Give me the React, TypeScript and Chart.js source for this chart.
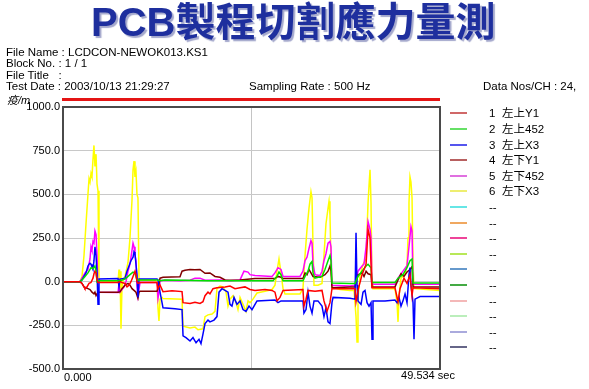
import React, { useEffect, useRef } from "react";
import { Chart, registerables } from "chart.js";

Chart.register(...registerables);

// ---------- DATA ----------
const TITLE = "PCB製程切割應力量測";
const HEADER_LINES = ["File Name : LCDCON-NEWOK013.KS1", "Block No. : 1 / 1", "File Title   :", "Test Date : 2003/10/13 21:29:27"];
const SAMPLING_TEXT = "Sampling Rate : 500 Hz";
const DATANOS_TEXT = "Data Nos/CH : 24,";
const Y_UNIT = "疫/m";

const X_MIN = 0;
const X_MAX = 49.534;
const X_GRID = [0, 24.767, 49.534];
const X_START_LABEL = "0.000";
const X_END_LABEL = "49.534 sec";
const Y_MIN = -500;
const Y_MAX = 1000;
const Y_STEP = 250;

const channelNumbers = ["1", "2", "3", "4", "5", "6", "", "", "", "", "", "", "", "", "", ""];
const channelNames = ["左上Y1", "左上452", "左上X3", "左下Y1", "左下452", "左下X3", "--", "--", "--", "--", "--", "--", "--", "--", "--", "--"];
const lineColors = ["#ff0000", "#00e000", "#0000ff", "#800000", "#ff00ff", "#ffff00"];
const legendColors = ["#d06868", "#66e066", "#5555ee", "#b86060", "#e070e0", "#eeee70", "#66e6e6", "#f0a860", "#ee4499", "#b8e858", "#6699cc", "#44aa44", "#f4b8b8", "#bbeebb", "#aaaadd", "#666688"];

// [time (sec), strain]
const ch1: number[][] = [
  [0, 0], [2.23, 0], [2.5, -10], [2.76, -30], [2.89, -40], [3.15, -30], [3.42, -10], [3.68, -5], [3.94, 20], [4.07, 45], [4.2, 60], [4.34, 50], [4.47, 10], [4.6, -5],
  [7.23, -5], [7.49, 0], [7.75, -5], [8.15, -10], [8.41, -30], [8.67, -20], [8.93, 0], [9.2, 30], [9.46, 60], [9.59, 40], [9.72, 0], [9.85, -10], [10.12, -5],
  [12.35, -5], [12.48, -40], [12.75, -20], [13.14, -57], [14.32, -52], [15.64, -57], [15.77, -120], [16.69, -125], [17.34, -118], [18.0, -125], [18.39, -115],
  [18.66, -80], [19.05, -60], [19.31, -70], [19.71, -40], [20.23, -35], [21.29, -30], [21.94, -25], [22.6, -40], [23.26, -35], [23.91, -30], [24.57, -45],
  [25.23, -50], [26.54, -45], [27.46, -50], [27.85, -60], [28.12, -110], [28.51, -90], [28.91, -50], [31.53, -45], [31.66, -140], [31.93, -100], [32.19, -50],
  [33.11, -55], [34.03, -50], [34.29, -110], [34.69, -170], [35.08, -120], [35.34, -40], [38.37, -40], [38.5, -115], [38.76, -50], [39.29, 40], [39.82, 100],
  [40.08, 300], [40.34, 250], [40.47, 100], [40.6, -35], [43.62, -35], [44.02, -115], [44.28, -40], [44.8, 20], [45.2, -10], [45.59, 40], [45.86, -80],
  [45.99, -35], [49.534, -40],
];
const ch2: number[][] = [
  [0, 0], [2.23, 0], [2.5, 10], [2.89, 30], [3.28, 50], [3.55, 70], [3.68, 80], [3.94, 75], [4.2, 90], [4.34, 60], [4.47, 0], [4.6, 5], [7.23, 5], [7.49, 5],
  [8.15, 15], [8.8, 40], [9.2, 55], [9.46, 50], [9.72, 10], [10.12, 10], [12.35, 10], [12.75, 5], [13.4, 10], [16.0, 8], [19.0, 5], [22.0, 5], [24.57, 5],
  [27.59, 5], [28.12, 30], [28.38, 55], [28.64, 40], [28.91, 5], [31.53, 5], [31.8, 30], [32.19, 60], [32.45, 100], [32.72, 115], [32.85, 50], [33.11, 20],
  [34.03, 30], [34.42, 70], [34.82, 120], [35.08, 150], [35.21, 120], [35.34, -8], [37.71, -10], [38.37, -10], [38.76, 30], [39.29, 60], [39.82, 90],
  [40.08, 100], [40.47, 80], [40.6, -5], [43.62, -5], [44.02, 20], [44.67, 40], [45.2, 80], [45.59, 120], [45.86, 130], [45.99, -8], [49.534, -8],
];
const ch3: number[][] = [
  [0, 0], [2.23, 0], [2.5, 10], [2.76, 30], [3.02, 50], [3.28, 90], [3.42, 100], [3.55, 105], [3.68, 100], [3.81, 85], [3.94, 70], [4.07, 120], [4.2, 200],
  [4.34, 150], [4.47, 50], [4.6, -130], [4.73, 15], [7.23, 18], [7.36, -30], [7.49, 15], [8.15, 20], [8.41, 60], [8.67, 90], [8.93, 120], [9.2, 140],
  [9.33, 170], [9.46, 160], [9.59, 100], [9.72, 40], [9.85, -90], [9.99, 15], [12.35, 15], [12.48, 10], [12.75, -60], [13.01, -120], [13.14, -150],
  [14.72, -155], [15.64, -160], [15.77, -310], [16.16, -320], [16.69, -340], [17.08, -320], [17.48, -350], [17.87, -330], [18.13, -355], [18.39, -300],
  [18.66, -240], [19.05, -220], [19.31, -230], [19.84, -220], [20.23, -200], [20.5, -60], [20.89, -40], [21.29, -50], [21.68, -60], [21.94, -130],
  [22.2, -140], [22.47, -90], [22.86, -130], [23.26, -110], [23.65, -160], [24.04, -170], [24.44, -140], [24.83, -160], [25.23, -130], [25.49, -110],
  [27.85, -105], [28.25, -120], [28.64, -110], [31.53, -110], [31.66, -180], [31.93, -160], [32.19, -60], [32.45, -140], [32.72, -180], [32.98, -110],
  [33.5, -110], [34.03, -140], [34.29, -200], [34.55, -150], [34.82, -230], [35.08, -240], [35.34, -120], [35.48, -90], [37.71, -95], [38.37, -100],
  [38.5, 280], [38.63, -20], [38.76, -110], [39.16, -130], [39.42, -60], [39.68, -50], [39.95, -120], [40.21, -140], [40.47, -120], [40.6, -330],
  [40.73, -110], [42.31, -110], [43.62, -105], [43.89, -120], [44.15, -90], [44.41, -140], [44.67, -110], [44.94, -70], [45.2, -120], [45.46, 40],
  [45.59, 80], [45.72, -20], [45.99, -120], [46.12, -330], [46.25, -100], [46.91, -85], [49.534, -85],
];
const ch4: number[][] = [
  [0, 0], [2.23, 0], [2.5, -10], [2.76, -30], [3.02, -35], [3.28, -40], [3.55, -45], [3.81, -60], [4.07, -70], [4.2, -60], [4.34, -80], [4.47, -70],
  [4.6, -60], [7.23, -60], [7.49, -58], [7.75, -40], [8.15, -20], [8.54, -10], [8.8, -20], [9.07, -40], [9.33, -50], [9.59, -60], [9.85, -95], [9.99, -60],
  [10.12, -55], [12.35, -55], [12.48, -40], [12.75, 20], [13.14, 25], [15.37, 28], [15.64, 60], [16.03, 65], [16.69, 70], [17.34, 68], [18.0, 70],
  [18.66, 48], [19.31, 50], [19.97, 30], [20.63, 25], [21.29, 10], [21.94, 8], [23.26, 10], [24.57, 15], [25.23, 18], [27.85, 18], [28.25, 30], [28.64, 25],
  [28.91, 18], [31.53, 18], [31.8, 50], [32.06, 40], [32.32, 70], [32.58, 50], [32.85, 30], [33.77, 25], [34.42, 40], [34.82, 60], [35.08, 90], [35.21, 60],
  [35.34, -35], [37.71, -30], [38.37, -30], [38.76, 40], [39.29, 50], [39.55, 30], [39.82, 60], [40.08, 45], [40.47, 40], [40.6, -30], [43.62, -30],
  [44.02, 10], [44.41, 45], [44.8, 30], [45.2, 55], [45.59, 70], [45.86, 86], [45.99, -30], [49.534, -30],
];
const ch5: number[][] = [
  [0, 0], [2.23, 0], [2.5, 20], [2.89, 50], [3.28, 70], [3.55, 130], [3.68, 200], [3.81, 180], [3.94, 230], [4.07, 220], [4.2, 290], [4.34, 270], [4.47, 150],
  [4.6, -60], [7.23, -62], [7.36, -10], [7.49, -60], [8.02, -30], [8.28, 0], [8.54, 60], [8.8, 100], [9.07, 180], [9.2, 220], [9.33, 200], [9.46, 150],
  [9.59, 120], [9.72, -20], [9.85, -80], [10.12, -5], [12.35, -5], [12.48, -95], [12.61, -60], [12.75, 5], [13.4, 8], [15.37, 5], [16.69, 8], [17.34, 20],
  [18.0, 20], [18.66, 8], [20.63, 10], [21.94, 5], [23.26, 10], [23.78, 60], [24.31, 55], [24.57, 40], [25.23, 35], [27.46, 30], [27.85, 50], [28.25, 80],
  [28.64, 70], [28.91, 30], [31.14, 30], [31.53, 60], [31.8, 120], [32.06, 140], [32.32, 190], [32.58, 235], [32.72, 220], [32.85, 100], [33.11, 40],
  [33.77, 35], [34.03, 60], [34.29, 120], [34.55, 160], [34.82, 220], [35.08, 230], [35.21, 200], [35.34, -20], [37.71, -25], [38.37, -20], [38.76, 60],
  [39.29, 90], [39.55, 100], [39.82, 200], [40.08, 344], [40.34, 300], [40.47, 250], [40.6, -15], [43.62, -15], [44.02, 20], [44.67, 60], [45.2, 92],
  [45.46, 200], [45.72, 315], [45.86, 290], [45.99, -15], [49.534, -15],
];
const ch6: number[][] = [
  [0, 0], [2.23, 0], [2.5, 30], [2.76, 150], [3.02, 330], [3.28, 500], [3.42, 590], [3.55, 570], [3.68, 620], [3.81, 600], [3.94, 700], [4.07, 780],
  [4.2, 660], [4.34, 730], [4.47, 560], [4.6, 520], [4.73, 0], [4.86, 5], [7.23, 0], [7.36, 70], [7.43, -20], [7.49, 60], [7.62, -270], [7.75, -30],
  [7.88, 10], [8.15, 30], [8.54, 110], [8.8, 250], [9.07, 470], [9.2, 640], [9.33, 690], [9.46, 600], [9.59, 630], [9.72, 500], [9.85, 480], [9.99, 0],
  [10.12, 10], [12.09, 5], [12.35, -5], [12.48, -150], [12.61, -225], [12.75, -100], [13.01, -90], [13.14, -97], [15.64, -100], [15.77, -255], [16.69, -265],
  [17.34, -260], [17.74, -275], [18.39, -270], [18.66, -200], [19.05, -190], [19.58, -185], [19.97, -170], [20.23, -40], [20.63, -25], [21.02, -30],
  [21.42, -60], [21.68, -140], [21.94, -100], [22.34, -80], [22.73, -120], [22.99, -160], [23.26, -90], [23.65, -130], [24.04, -170], [24.31, -110],
  [24.57, -120], [24.96, -100], [25.49, -65], [26.54, -55], [27.46, -45], [27.85, -20], [28.12, 60], [28.38, 130], [28.64, 50], [28.91, -40], [29.17, -70],
  [31.14, -70], [31.53, -40], [31.8, 150], [32.06, 300], [32.32, 420], [32.58, 515], [32.72, 480], [32.85, 200], [32.98, -20], [33.5, -20], [34.03, -10],
  [34.29, 150], [34.55, 330], [34.82, 420], [34.95, 460], [35.08, 380], [35.21, 120], [35.34, -30], [36.4, -45], [37.71, -50], [38.24, -50], [38.5, -200],
  [38.63, -345], [38.76, -100], [39.02, 30], [39.42, 100], [39.82, 130], [39.95, 300], [40.08, 450], [40.21, 550], [40.34, 640], [40.47, 450], [40.6, 0],
  [40.73, -40], [43.62, -40], [43.89, -120], [44.02, -230], [44.15, -80], [44.41, 20], [44.94, 40], [45.2, 100], [45.33, 250], [45.46, 450], [45.59, 600],
  [45.72, 570], [45.86, 480], [45.99, 100], [46.12, -40], [49.534, -50],
];
const channels = [ch1, ch2, ch3, ch4, ch5, ch6];

// ---------- STYLE ----------
const FONT = '"Liberation Sans", Arial, "Noto Sans CJK TC", sans-serif';

const framePlugin = {
  id: "frameAndXLabels",
  afterDatasetsDraw(chart: any) {
    const { ctx, chartArea: a, scales } = chart;
    ctx.save();
    ctx.strokeStyle = "#4a4a4a";
    ctx.lineWidth = 2;
    ctx.strokeRect(a.left, a.top, a.right - a.left, a.bottom - a.top);
    ctx.fillStyle = "#000";
    ctx.font = '11px "Liberation Sans", Arial, sans-serif';
    ctx.textBaseline = "middle";
    ctx.textAlign = "left";
    const xs = scales.x;
    ctx.fillText(X_START_LABEL, xs.getPixelForValue(X_MIN) + 1, a.bottom + 9);
    ctx.textAlign = "center";
    ctx.fillText(X_END_LABEL, xs.getPixelForValue(X_MAX) - 12, a.bottom + 7);
    ctx.restore();
  },
};

export default function App() {
  const ref = useRef<HTMLCanvasElement | null>(null);

  useEffect(() => {
    if (!ref.current) return;
    const chart = new Chart(ref.current, {
      type: "line",
      data: {
        datasets: channels.map((ch, i) => ({
          label: channelNames[i],
          data: ch.map(([x, y]) => ({ x, y })),
          borderColor: lineColors[i],
          backgroundColor: lineColors[i],
          borderWidth: 1.5,
          pointRadius: 0,
          tension: 0,
          fill: false,
        })),
      },
      options: {
        responsive: false,
        animation: false,
        events: [],
        layout: { padding: { top: 107, right: 149, left: 0, bottom: 0 } },
        plugins: { legend: { display: false }, tooltip: { enabled: false } },
        scales: {
          x: {
            type: "linear",
            min: X_MIN,
            max: X_MAX,
            afterBuildTicks: (scale: any) => {
              scale.ticks = X_GRID.map((v) => ({ value: v }));
            },
            afterFit: (scale: any) => {
              scale.height = 20;
            },
            ticks: { display: false },
            grid: { color: "#c4c4c4", lineWidth: 1, drawTicks: false },
            border: { display: false },
          },
          y: {
            type: "linear",
            min: Y_MIN,
            max: Y_MAX,
            afterFit: (scale: any) => {
              scale.width = 63;
            },
            ticks: {
              stepSize: Y_STEP,
              padding: 3,
              color: "#000",
              font: { family: '"Liberation Sans", Arial, sans-serif', size: 11 },
              callback: (v: any) => Number(v).toFixed(1),
            },
            grid: { color: "#c8c8c8", lineWidth: 1, drawTicks: false },
            border: { display: false },
          },
        },
      },
      plugins: [framePlugin],
    } as any);
    return () => chart.destroy();
  }, []);

  const legendTop = 113.3;
  const legendStep = 15.6;

  return (
    <div style={{ position: "absolute", left: 0, top: 0, width: 589, height: 389, background: "#fff", overflow: "hidden", fontFamily: FONT }}>
      <canvas ref={ref} width={589} height={389} style={{ position: "absolute", left: 0, top: 0, width: 589, height: 389 }} />
      <div
        style={{
          position: "absolute", left: 91, top: 0, fontSize: 40, lineHeight: "44px", fontWeight: "bold",
          color: "#1e2f9e", whiteSpace: "nowrap", textShadow: "2px 2px 1px #a4a8cc",
        }}
      >
        {TITLE}
      </div>
      {HEADER_LINES.map((t, i) => (
        <div key={i} style={{ position: "absolute", left: 6, top: 46 + i * 11.4, fontSize: 11.5, lineHeight: "12px", whiteSpace: "pre", color: "#000" }}>
          {t}
        </div>
      ))}
      <div style={{ position: "absolute", left: 249, top: 46 + 3 * 11.4, fontSize: 11.5, lineHeight: "12px", whiteSpace: "pre", color: "#000" }}>{SAMPLING_TEXT}</div>
      <div style={{ position: "absolute", left: 483, top: 46 + 3 * 11.4, fontSize: 11.5, lineHeight: "12px", whiteSpace: "pre", color: "#000" }}>{DATANOS_TEXT}</div>
      <div style={{ position: "absolute", left: 7, top: 94, fontSize: 11, lineHeight: "12px", fontStyle: "italic", color: "#000" }}>{Y_UNIT}</div>
      <div style={{ position: "absolute", left: 62, top: 98, width: 378, height: 3, background: "#e41414" }} />
      {channelNames.map((name, i) => {
        const cy = legendTop + i * legendStep;
        return (
          <React.Fragment key={i}>
            <div style={{ position: "absolute", left: 450, top: cy - 1, width: 17, height: 2, background: legendColors[i] }} />
            {channelNumbers[i] ? (
              <>
                <div style={{ position: "absolute", left: 489, top: cy - 7, fontSize: 11.5, lineHeight: "14px", color: "#000" }}>{channelNumbers[i]}</div>
                <div style={{ position: "absolute", left: 502, top: cy - 7, fontSize: 11.5, lineHeight: "14px", color: "#000", whiteSpace: "nowrap" }}>{name}</div>
              </>
            ) : (
              <div style={{ position: "absolute", left: 489, top: cy - 7, fontSize: 11.5, lineHeight: "14px", color: "#000" }}>{name}</div>
            )}
          </React.Fragment>
        );
      })}
    </div>
  );
}
